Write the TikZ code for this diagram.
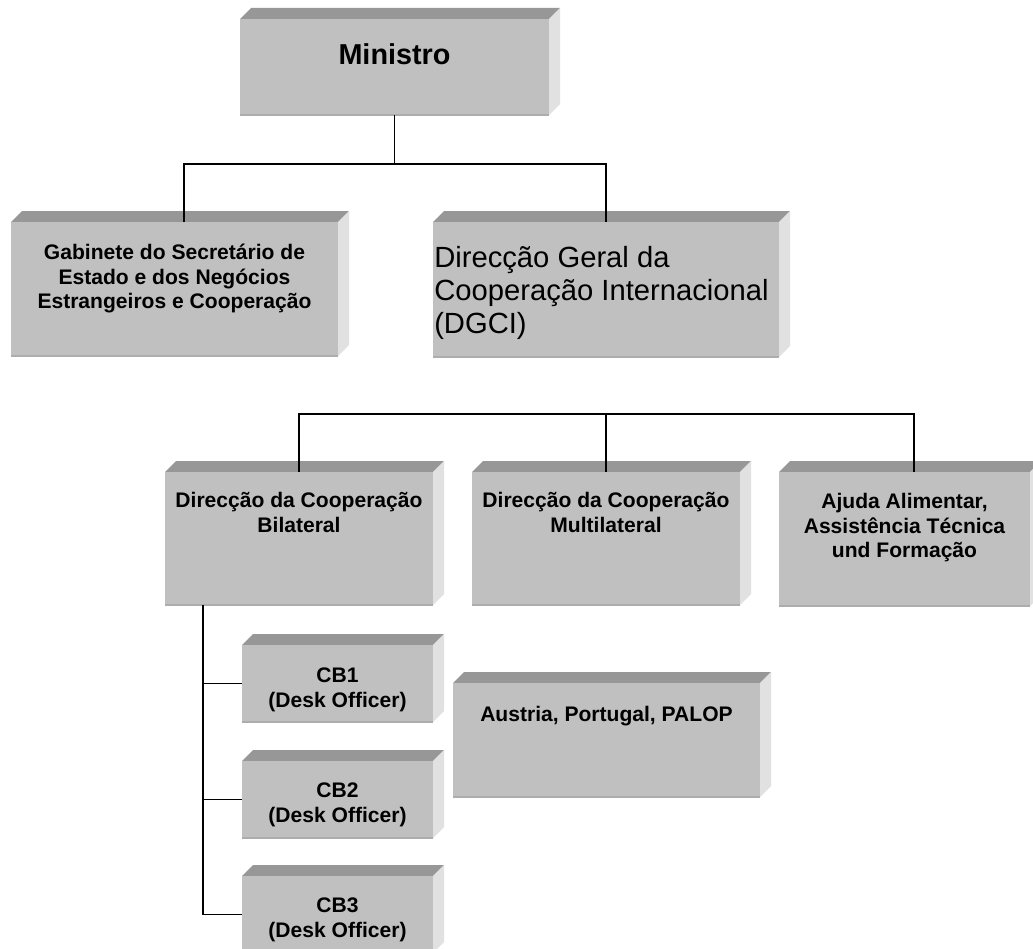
\documentclass[tikz,border=0pt]{standalone}
\usepackage{fontspec}
\setmainfont{Liberation Sans}
\usetikzlibrary{fit, calc}

\definecolor{faceGray}{HTML}{C0C0C0}
\definecolor{topGray}{HTML}{979797}
\definecolor{sideGray}{HTML}{E1E1E1}
\definecolor{edgeGray}{HTML}{ADADAD}

\tikzset{
  frontface/.style={fill=faceGray, inner sep=0pt, outer sep=0pt},
  boxtext/.style={font=\bfseries\fontsize{15.8}{18.4}\selectfont, align=center, anchor=north, inner sep=0pt},
  link/.style={draw=black, line width=1.35pt}
}

\newcommand{\orgbox}[5]{%
  \fill[topGray] (#2,#3) -- (#2+11,#3-11) -- (#4+11,#3-11) -- (#4,#3) -- cycle;
  \fill[sideGray] (#4,#3) -- (#4+11,#3-11) -- (#4+11,#5-11) -- (#4,#5) -- cycle;
  \coordinate (#1-nw) at (#2,#3);
  \coordinate (#1-se) at (#4,#5);
  \node[frontface, fit=(#1-nw)(#1-se)] (#1) {};
  \draw[edgeGray, line width=1.2pt] (#2,#5) -- (#4,#5);
}

\begin{document}
\begin{tikzpicture}[x=0.75pt, y=-0.75pt]
    \path[use as bounding box, fill=white] (0,0) rectangle (1033,949);

    \orgbox{mini}{240}{19}{549}{115}
    \orgbox{gab}{11}{222}{338}{356}
    \orgbox{dgci}{433}{222}{779}{357}
    \orgbox{bil}{165}{472}{433}{605}
    \orgbox{multi}{472}{472}{740}{605}
    \orgbox{ajuda}{779}{472}{1030}{606}
    \orgbox{austria}{453}{683}{760}{797}
    \foreach \i/\y in {1/645, 2/761, 3/876} {
        \orgbox{cb\i}{242}{\y}{433}{\y+77}
    }

    \node[boxtext, font=\bfseries\fontsize{21.6}{24}\selectfont] (miniT) at (394.5,43) {Ministro};
    \node[boxtext] (gabT) at (174.5,244) {Gabinete do Secretário de\\Estado e dos Negócios\\Estrangeiros e Cooperação};
    \node[boxtext, font=\fontsize{21.9}{24.8}\selectfont, align=left, anchor=north west] (dgciT) at (434,246) {Direcção Geral da\\Cooperação Internacional\\(DGCI)};
    \node[boxtext] (bilT) at (299,492) {Direcção da Cooperação\\Bilateral};
    \node[boxtext] (multiT) at (606,492) {Direcção da Cooperação\\Multilateral};
    \node[boxtext] (ajudaT) at (904.5,493) {Ajuda Alimentar,\\Assistência Técnica\\und Formação};
    \node[boxtext] (austriaT) at (606.5,706) {Austria, Portugal, PALOP};
    \foreach \i/\y in {1/668, 2/783, 3/898} {
        \node[boxtext] (cb\i T) at (337.5,\y) {CB\i\\(Desk Officer)};
    }

    \coordinate (gabx) at (184,0);
    \coordinate (ajx) at (914,0);
    \coordinate (bus2) at (0,414);
    \coordinate (spine) at (203,0);

    \draw[link] (mini.south) -- ++(0,49) coordinate (bus1);
    \draw[link] (gab.north -| gabx) |- (bus1) -| (dgci.north);
    \draw[link] (bil.north) -- (bil.north |- bus2) -| (ajuda.north -| ajx);
    \draw[link] (multi.north) -- (multi.north |- bus2);
    \draw[link] (bil.south -| spine) |- (cb3.west);
    \foreach \i in {1, 2} {
        \draw[link] (cb\i.west -| spine) -- (cb\i.west);
    }
\end{tikzpicture}
\end{document}
